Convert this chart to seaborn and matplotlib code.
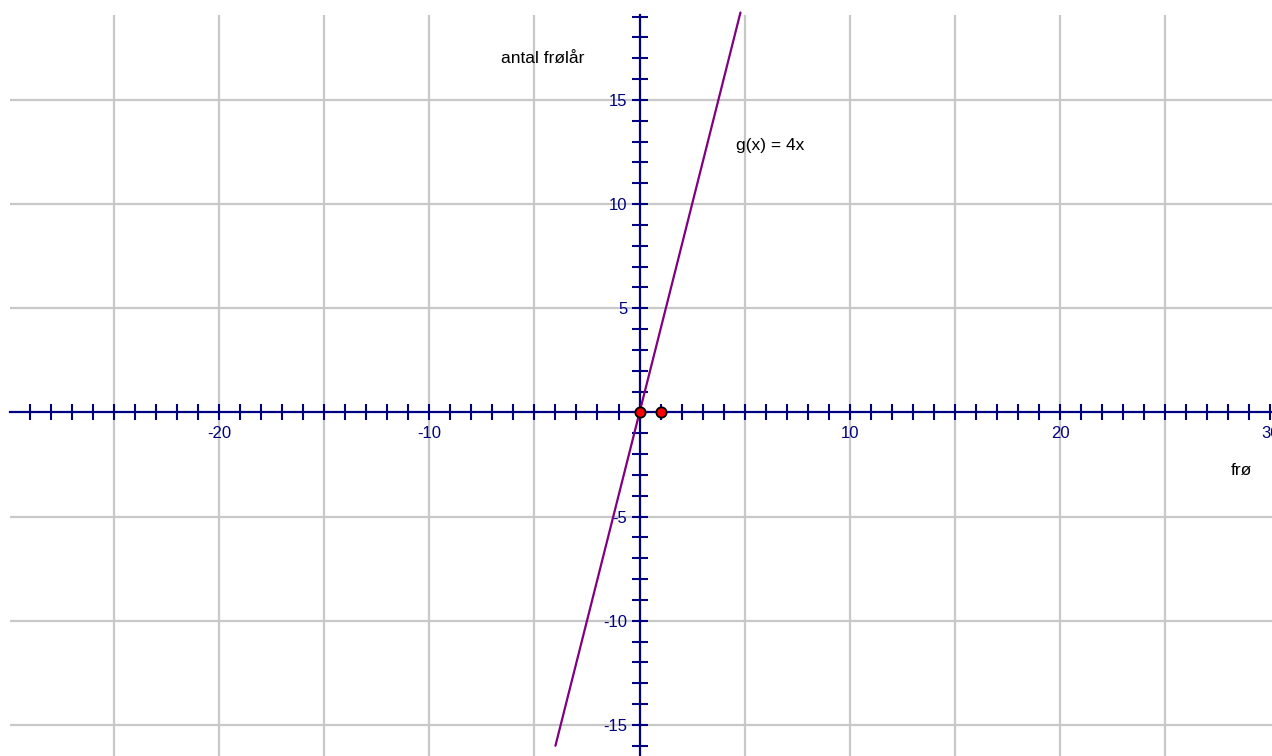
import matplotlib.pyplot as plt
import numpy as np
import pandas as pd
import seaborn as sns
from matplotlib.ticker import FixedLocator, MultipleLocator

# line g(x) = 4x, end points
line_x = [-4.0, 4.8]
line_y = [-16.0, 19.2]

# the two red points on the x-axis
point_x = [0, 1]
point_y = [0, 0]

x_major = [-25, -20, -15, -10, -5, 0, 5, 10, 15, 20, 25, 30]
x_labels = ["", "-20", "", "-10", "", "", "", "10", "", "20", "", "30"]
y_major = [-15, -10, -5, 0, 5, 10, 15]
y_labels = ["-15", "-10", "-5", "", "5", "10", "15"]

# grid every 5 units (none at the right edge)
x_grid = [-25, -20, -15, -10, -5, 5, 10, 15, 20, 25]
y_grid = [-15, -10, -5, 5, 10, 15]

AXIS_COLOR = "#000080"
GRID_COLOR = "#c8c8c8"


def main() -> None:
    sns.set_theme(style="white")
    plt.rcParams["font.family"] = ["Liberation Sans", "DejaVu Sans"]

    fig = plt.figure(figsize=(12.72, 7.56), dpi=100)
    ax = fig.add_axes([10 / 1272, 0, 1262 / 1272, 741 / 756])

    line_df = pd.DataFrame({"x": line_x, "y": line_y})
    points_df = pd.DataFrame({"x": point_x, "y": point_y})

    for gx in x_grid:
        ax.axvline(gx, color=GRID_COLOR, linewidth=1.6, zorder=0)
    for gy in y_grid:
        ax.axhline(gy, color=GRID_COLOR, linewidth=1.6, zorder=0)

    sns.lineplot(data=line_df, x="x", y="y", ax=ax, color="#800080",
                 linewidth=1.6, zorder=3, clip_on=False)
    sns.scatterplot(data=points_df, x="x", y="y", ax=ax, color="#ff0000",
                    edgecolor="black", linewidth=1.3, s=55, zorder=5)

    ax.set_xlim(-29.94, 30.08)
    ax.set_ylim(-16.49, 19.08)

    ax.xaxis.set_major_locator(FixedLocator(x_major))
    ax.xaxis.set_minor_locator(MultipleLocator(1))
    ax.yaxis.set_major_locator(FixedLocator(y_major))
    ax.yaxis.set_minor_locator(MultipleLocator(1))
    ax.set_xticklabels(x_labels)
    ax.set_yticklabels(y_labels)
    ax.grid(False)

    for side in ["top", "right"]:
        ax.spines[side].set_visible(False)
    for side in ["left", "bottom"]:
        ax.spines[side].set_position(("data", 0))
        ax.spines[side].set_color(AXIS_COLOR)
        ax.spines[side].set_linewidth(1.6)
        ax.spines[side].set_zorder(2.5)

    ax.tick_params(which="both", direction="inout", length=11.5, width=1.5,
                   color=AXIS_COLOR, labelcolor=AXIS_COLOR, labelsize=12)
    ax.tick_params(axis="x", which="both", pad=4, bottom=True)
    ax.tick_params(axis="y", which="both", pad=3, left=True)

    ax.set_xlabel("")
    ax.set_ylabel("")

    ax.text(-6.6, 17.0, "antal frølår", fontsize=12.5, color="black",
            ha="left", va="center")
    ax.text(28.1, -2.8, "frø", fontsize=12.5, color="black",
            ha="left", va="center")
    ax.text(4.6, 12.8, "g(x) = 4x", fontsize=12.5, color="black",
            ha="left", va="center")

    fig.savefig("out.png", dpi=100)
    plt.close(fig)


if __name__ == "__main__":
    main()
